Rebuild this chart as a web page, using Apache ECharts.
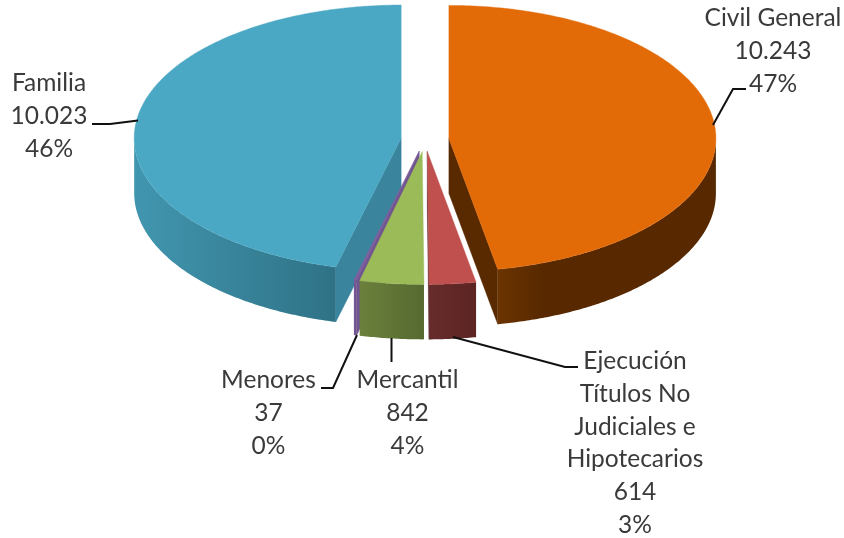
<!DOCTYPE html>
<html>
<head>
<meta charset="utf-8">
<style>html,body{margin:0;padding:0;background:#fff}#main{width:844px;height:538px}</style>
<script src="https://cdn.jsdelivr.net/npm/echarts@6/dist/echarts.min.js"></script>
</head>
<body>
<div id="main"></div>
<script>
// data
var categories = ['Civil General', 'Ejecución\nTítulos No\nJudiciales e\nHipotecarios', 'Mercantil', 'Menores', 'Familia'];
var values = [10243, 614, 842, 37, 10023];
var valueLabels = ['10.243', '614', '842', '37', '10.023'];
var percentLabels = ['47%', '3%', '4%', '0%', '46%'];

// look of each slice: top, side wall left/right, cut face
var topColors = ['#E26B08', '#C0504D', '#9BBB59', '#7F5F9F', '#4BA8C4'];
var wallFrom = ['#6B3300', '#662C2B', '#6C803C', '#7A5B9A', '#4196AF'];
var wallTo = ['#582900', '#5C2423', '#566930', '#6A4E88', '#2F7286'];
var wallStop = [0.2, 1, 1, 1, 1];
var cutColors = ['#592A00', '#5C2423', '#566930', '#70548F', '#3A849E'];

// pie geometry
var cx = 425, cy = 139.5, rx = 267, ry = 133, depth = 55, explode = 24;
var squash = ry / rx;

// label centres and leader lines
var labelPos = [[773, 2], [635, 345], [407.5, 364], [268.5, 364], [49, 67]];
var leaders = [
    [[713, 125], [733, 89], [746, 89]],
    [[453, 337], [565, 367], [578, 367]],
    [[391.5, 338], [391.5, 362]],
    [[357, 335], [333, 388], [321, 388]],
    [[138, 120.5], [110, 124], [92, 124]]
];

var total = values.reduce(function (a, b) { return a + b; }, 0);

function pt(a, c, dy) {
    var r = a * Math.PI / 180;
    return [c[0] + rx * Math.sin(r), c[1] - ry * Math.cos(r) + (dy || 0)];
}
function arc(a0, a1, c, dy) {
    var pts = [], n = Math.max(2, Math.ceil((a1 - a0) * 2));
    for (var i = 0; i <= n; i++) {
        pts.push(pt(a0 + (a1 - a0) * i / n, c, dy));
    }
    return pts;
}
function poly(points, fill) {
    return {type: 'polygon', shape: {points: points}, style: {fill: fill, stroke: fill, lineWidth: 0.4}};
}

// angles come from the values
var slices = [], sum = 0;
values.forEach(function (v, i) {
    var a0 = echarts.number.linearMap(sum, [0, total], [0, 360]);
    sum += v;
    var a1 = echarts.number.linearMap(sum, [0, total], [0, 360]);
    var mid = (a0 + a1) / 2, r = mid * Math.PI / 180;
    slices.push({
        i: i, a0: a0, a1: a1, mid: mid,
        c: [cx + explode * Math.sin(r), cy - explode * squash * Math.cos(r)]
    });
});

function drawSlice(params, api) {
    var s = slices[api.value(0)], i = s.i, c = s.c, kids = [];
    // cut faces that look towards the viewer
    if (s.a1 <= 180) {
        var e = pt(s.a1, c);
        kids.push(poly([c, e, [e[0], e[1] + depth], [c[0], c[1] + depth]], cutColors[i]));
    }
    if (s.a0 >= 180) {
        var b = pt(s.a0, c);
        kids.push(poly([c, b, [b[0], b[1] + depth], [c[0], c[1] + depth]], cutColors[i]));
    }
    // outer wall, only the front half of the rim shows
    var w0 = Math.max(s.a0, 90), w1 = Math.min(s.a1, 270);
    if (w1 > w0) {
        var up = arc(w0, w1, c), down = arc(w0, w1, c, depth).reverse();
        var xs = up.map(function (p) { return p[0]; });
        var x0 = Math.min.apply(null, xs), x1 = Math.max.apply(null, xs);
        kids.push({
            type: 'polygon',
            shape: {points: up.concat(down)},
            style: {
                fill: new echarts.graphic.LinearGradient(x0, 0, x1, 0, [
                    {offset: 0, color: wallFrom[i]},
                    {offset: wallStop[i], color: wallTo[i]},
                    {offset: 1, color: wallTo[i]}
                ], true)
            }
        });
    }
    kids.push(poly([c].concat(arc(s.a0, s.a1, c)), topColors[i]));
    return {type: 'group', children: kids};
}

function drawLabels(params, api) {
    var i = api.value(0), kids = [];
    kids.push({
        type: 'polyline',
        shape: {points: leaders[i]},
        style: {stroke: '#111', lineWidth: 2, fill: null}
    });
    kids.push({
        type: 'text',
        style: {
            x: labelPos[i][0], y: labelPos[i][1],
            text: categories[i] + '\n' + valueLabels[i] + '\n' + percentLabels[i],
            align: 'center', verticalAlign: 'top',
            font: '24.5px Lato', lineHeight: 32.7, fill: '#3A3A3A'
        }
    });
    return {type: 'group', children: kids};
}

// back slices first
var drawOrder = slices.slice().sort(function (a, b) {
    return Math.abs(b.mid - 180) - Math.abs(a.mid - 180);
}).map(function (s) { return s.i; });

var myChart = echarts.init(document.getElementById('main'));
var option = {
    animation: false,
    series: [
        {type: 'custom', coordinateSystem: 'none', renderItem: drawSlice, data: drawOrder.map(function (i) { return [i, values[i]]; }), silent: true},
        {type: 'custom', coordinateSystem: 'none', renderItem: drawLabels, data: values.map(function (v, i) { return [i, v]; }), silent: true}
    ]
};
myChart.setOption(option);
</script>
</body>
</html>
